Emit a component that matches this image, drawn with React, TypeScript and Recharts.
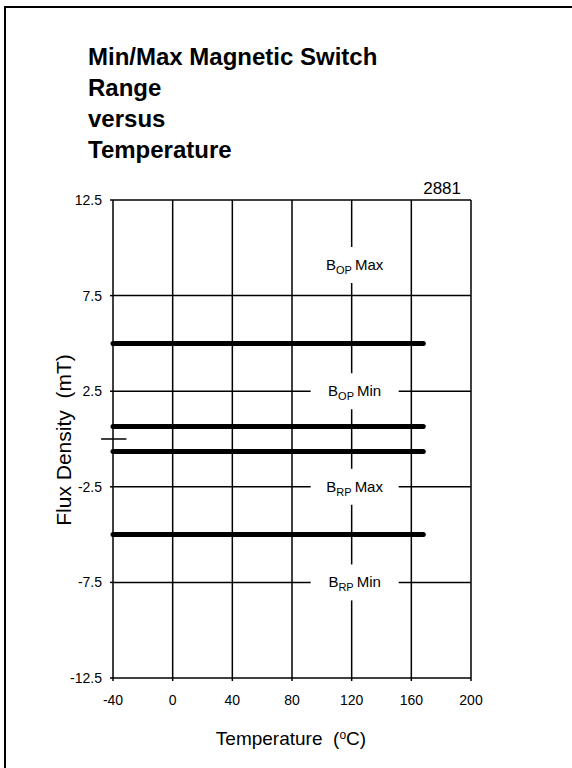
import { LineChart, Line, XAxis, YAxis, CartesianGrid, ReferenceLine, ReferenceDot } from 'recharts';

// temperature span of the switch-point lines (°C)
const TEMPS = [-40, 168];
// flux density limits (mT)
const OP_MAX = [5, 5];
const OP_MIN = [0.65, 0.65];
const RP_MAX = [-0.65, -0.65];
const RP_MIN = [-5, -5];

const X_TICKS = [-40, 0, 40, 80, 120, 160, 200];
const Y_TICKS = [-12.5, -7.5, -2.5, 2.5, 7.5, 12.5];

const ZONE_LABELS = [
  { sub: 'OP', word: 'Max', t: 122, b: 9.1 },
  { sub: 'OP', word: 'Min', t: 122, b: 2.5 },
  { sub: 'RP', word: 'Max', t: 122, b: -2.5 },
  { sub: 'RP', word: 'Min', t: 122, b: -7.5 },
];

// short mark at 0 mT crossing the left axis
const ZERO_MARK = [-48, -31];

const TITLE = ['Min/Max Magnetic Switch', 'Range', 'versus', 'Temperature'];

const data = TEMPS.map((t, i) => ({
  t,
  opMax: OP_MAX[i],
  opMin: OP_MIN[i],
  rpMax: RP_MAX[i],
  rpMin: RP_MIN[i],
}));

const FONT = '"Liberation Sans", Arial, sans-serif';

const ZoneLabel = ({ cx, cy, sub, word }: any) => (
  <g>
    <rect x={cx - 44} y={cy - 18} width={88} height={36} fill="#fff" />
    <text x={cx} y={cy + 5} textAnchor="middle" fontSize={15} fill="#000" fontFamily={FONT}>
      B
      <tspan fontSize={11} dy={4}>{sub}</tspan>
      <tspan dy={-4} dx={3}>{word}</tspan>
    </text>
  </g>
);

export default function App() {
  const series = ['opMax', 'opMin', 'rpMax', 'rpMin'];
  return (
    <div
      style={{
        position: 'absolute',
        left: 0,
        top: 0,
        width: 572,
        height: 768,
        overflow: 'hidden',
        background: '#fff',
        fontFamily: FONT,
      }}
    >
      <div style={{ position: 'absolute', left: 4, top: 6, width: 620, height: 820, border: '2px solid #000' }} />

      <LineChart
        width={572}
        height={768}
        data={data}
        margin={{ top: 200, right: 101, bottom: 50, left: 53 }}
        style={{ position: 'absolute', left: 0, top: 0 }}
      >
        <CartesianGrid stroke="#000" strokeWidth={1.5} />
        <XAxis
          dataKey="t"
          type="number"
          domain={[-40, 200]}
          ticks={X_TICKS}
          height={40}
          axisLine={false}
          tickSize={3}
          tickMargin={14}
          tickLine={{ stroke: '#000', strokeWidth: 1.5 }}
          tick={{ fill: '#000', fontSize: 14 }}
        />
        <YAxis
          type="number"
          domain={[-12.5, 12.5]}
          ticks={Y_TICKS}
          width={60}
          axisLine={false}
          tickSize={3}
          tickMargin={8}
          tickLine={{ stroke: '#000', strokeWidth: 1.5 }}
          tick={{ fill: '#000', fontSize: 14 }}
        />
        <ReferenceLine
          segment={[{ x: ZERO_MARK[0], y: 0 }, { x: ZERO_MARK[1], y: 0 }]}
          stroke="#000"
          strokeWidth={1.5}
          ifOverflow="visible"
        />
        {ZONE_LABELS.map((z) => (
          <ReferenceDot
            key={z.sub + z.word}
            x={z.t}
            y={z.b}
            r={1}
            ifOverflow="visible"
            shape={(p: any) => <ZoneLabel cx={p.cx} cy={p.cy} sub={z.sub} word={z.word} />}
          />
        ))}
        {series.map((k) => (
          <Line
            key={k}
            dataKey={k}
            type="linear"
            stroke="#000"
            strokeWidth={5}
            strokeLinecap="round"
            dot={false}
            activeDot={false}
            isAnimationActive={false}
          />
        ))}
      </LineChart>

      <div style={{ position: 'absolute', left: 88, top: 41, fontSize: 24, fontWeight: 'bold', lineHeight: '31px' }}>
        {TITLE.map((l) => (
          <div key={l}>{l}</div>
        ))}
      </div>

      <div style={{ position: 'absolute', right: 572 - 461, top: 178, fontSize: 17, lineHeight: '21px' }}>2881</div>

      <div
        style={{
          position: 'absolute',
          left: 291 - 150,
          width: 300,
          top: 724,
          textAlign: 'center',
          fontSize: 19,
          lineHeight: '22px',
          whiteSpace: 'pre',
        }}
      >
        {'Temperature  ('}
        <sup style={{ fontSize: 12, verticalAlign: '6px' }}>o</sup>
        {'C)'}
      </div>

      <div
        style={{
          position: 'absolute',
          left: 64 - 150,
          top: 440 - 11,
          width: 300,
          textAlign: 'center',
          fontSize: 21,
          lineHeight: '22px',
          whiteSpace: 'pre',
          transform: 'rotate(-90deg)',
        }}
      >
        {'Flux Density  (mT)'}
      </div>
    </div>
  );
}
